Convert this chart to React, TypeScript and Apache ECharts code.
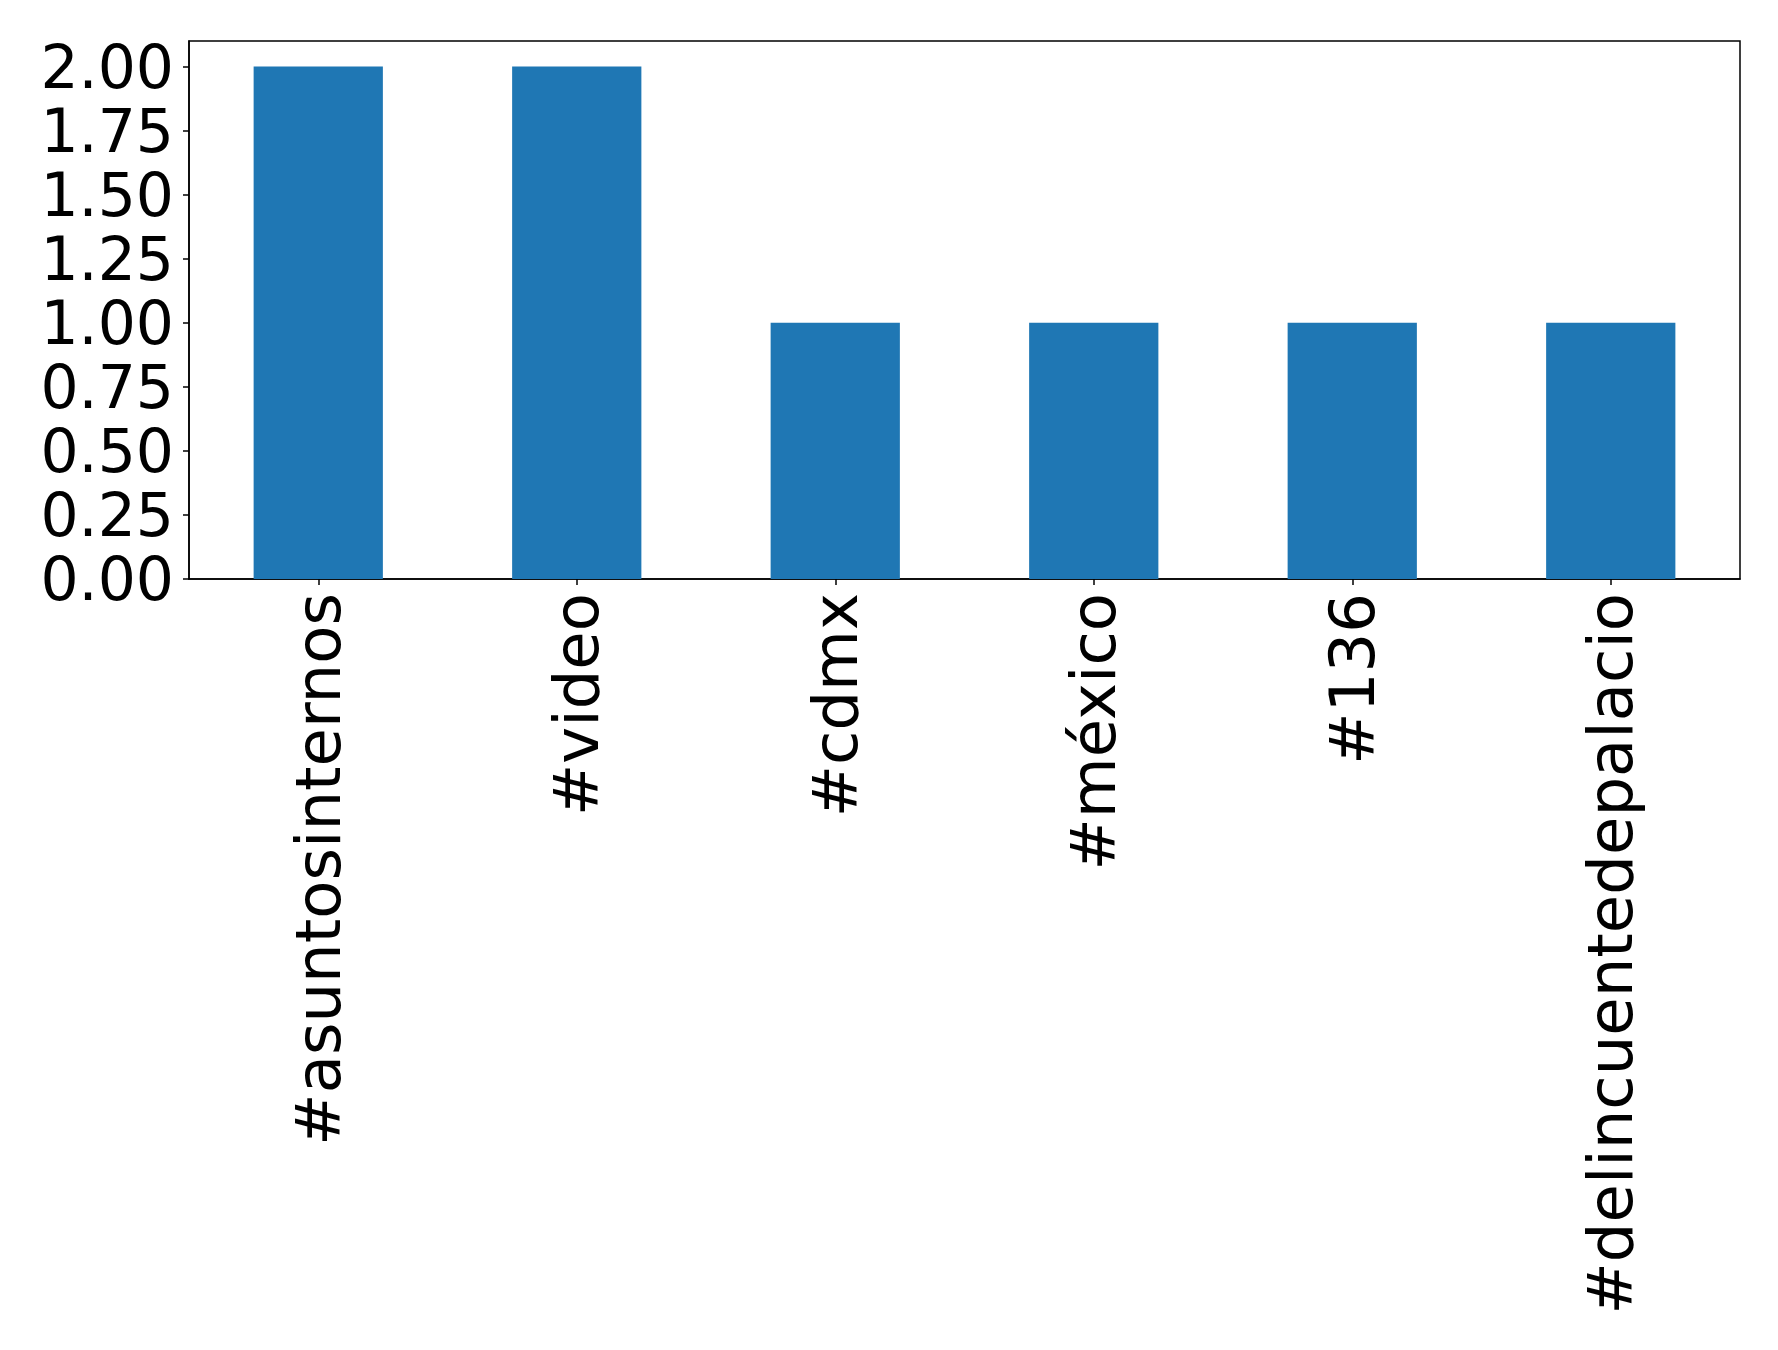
import React, { useEffect, useRef } from "react";
import * as echarts from "echarts";

const categories = ["#asuntosinternos", "#video", "#cdmx", "#méxico", "#136", "#delincuentedepalacio"];
const counts = [2, 2, 1, 1, 1, 1];
const yTicks = [0, 0.25, 0.5, 0.75, 1.0, 1.25, 1.5, 1.75, 2.0];

export default function App() {
  const ref = useRef<HTMLDivElement>(null);
  useEffect(() => {
    document.body.style.margin = "0";
    const chart = echarts.init(ref.current!, null, { renderer: "svg" });
    const font = "DejaVu Sans";
    chart.setOption({
      animation: false,
      backgroundColor: "#ffffff",
      grid: {
        left: 189,
        top: 41,
        width: 1551,
        height: 538,
        show: true,
        borderColor: "#000000",
        borderWidth: 1.5,
        containLabel: false,
      },
      xAxis: {
        type: "category",
        data: categories,
        axisLine: { show: true, lineStyle: { color: "#000000", width: 1.5 } },
        axisTick: { show: true, alignWithLabel: true, length: 6, lineStyle: { color: "#000000", width: 1.5 } },
        axisLabel: {
          rotate: 90,
          interval: 0,
          margin: 14,
          fontSize: 62.5,
          fontFamily: font,
          color: "#000000",
        },
        splitLine: { show: false },
      },
      yAxis: {
        type: "value",
        min: 0,
        max: 2.1,
        interval: 0.25,
        axisLine: { show: true, lineStyle: { color: "#000000", width: 1.5 } },
        axisTick: { show: true, length: 6, customValues: yTicks, lineStyle: { color: "#000000", width: 1.5 } },
        axisLabel: {
          customValues: yTicks,
          margin: 15,
          fontSize: 60,
          lineHeight: 52,
          fontFamily: font,
          color: "#000000",
          formatter: (v: number) => v.toFixed(2),
        },
        splitLine: { show: false },
      },
      series: [
        {
          type: "bar",
          data: counts,
          barWidth: "50%",
          itemStyle: { color: "#1f77b4" },
        },
      ],
    });
    return () => chart.dispose();
  }, []);
  return <div ref={ref} style={{ width: 1778, height: 1350, position: "absolute", left: 0, top: 0 }} />;
}
